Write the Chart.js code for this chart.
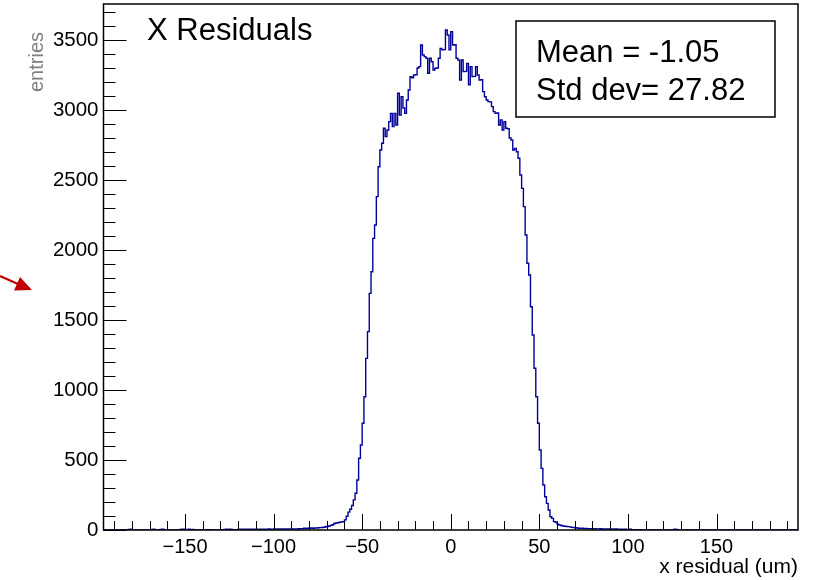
<!DOCTYPE html>
<html>
<head>
<meta charset="utf-8">
<script src="https://cdn.jsdelivr.net/npm/chart.js@4.4.1/dist/chart.umd.min.js"></script>
<style>
  html, body { margin: 0; padding: 0; background: #ffffff; }
  #wrap { width: 813px; height: 580px; position: relative; }
</style>
</head>
<body>
<div id="wrap"><canvas id="c" width="813" height="580"></canvas></div>
<script>
// ---- data ----
const xMin = -196;            // left edge of the first bin (um)
const xMax = 196;             // right edge of the last bin (um)
const yMax = 3757;            // top of the frame (entries)

// bin contents, 1 um bins, left tail: x = -196 ... -71
const leftTail = [
  0,0,0,1,0,0,0,0,1,0,
  0,0,0,0,4,5,0,0,1,0,
  0,0,0,1,0,0,0,4,5,0,
  0,1,4,5,0,0,0,1,0,0,
  1,0,0,4,5,5,0,4,5,0,
  4,0,0,1,0,0,1,0,0,2,
  0,0,1,0,0,0,2,0,4,5,
  4,5,4,1,2,0,5,4,5,5,
  4,6,5,4,5,6,5,4,6,5,
  5,6,6,7,5,6,7,6,7,8,
  6,7,7,8,7,6,8,7,8,7,
  9,8,10,12,11,13,12,14,13,15,
  14,16,17,18,20,23
];
// core: x = -70 ... 74
const core = [
  25,29,33,38,46,50,52,55,57,60,
  72,98,128,148,175,215,262,357,512,607,
  762,952,1226,1417,1690,1845,2083,2179,2381,2595,
  2714,2762,2869,2810,2857,2917,2976,2881,2976,2893,
  3119,2964,3095,3014,2976,3071,3143,3238,3230,3250,
  3252,3300,3310,3464,3393,3381,3369,3262,3369,3345,
  3286,3298,3300,3369,3440,3429,3431,3571,3536,3429,
  3560,3464,3466,3369,3357,3214,3357,3274,3276,3333,
  3179,3310,3238,3240,3310,3250,3214,3216,3131,3095,
  3071,3060,3058,3024,2988,2976,2978,2893,2929,2857,
  2917,2869,2866,2800,2786,2714,2726,2702,2655,2536,
  2440,2310,2107,1905,1821,1595,1393,1155,952,762,
  571,440,321,238,190,143,95,83,60,55,
  42,36,32,29,27,25,24,22,19,18,
  16,14,13,12,12
];
// right tail: x = 75 ... 195
const rightTail = [
  10,11,9,10,9,8,9,8,8,9,
  7,8,7,8,7,6,7,6,7,6,
  5,5,4,5,4,3,6,3,2,3,
  2,1,2,0,1,0,1,0,0,2,
  0,0,0,1,0,0,0,0,0,0,
  0,5,4,0,0,0,1,0,0,0,
  0,0,0,0,1,0,0,0,0,0,
  0,0,0,0,0,0,0,0,0,1,
  0,0,0,0,0,0,0,0,0,0,
  0,0,0,0,1,0,0,0,0,0,
  0,0,0,0,0,0,0,0,0,0,
  0,0,0,0,0,0,1,0,0,0,
  0
];
const counts = [...leftTail, ...core, ...rightTail];

const xTickLabels = [-150, -100, -50, 0, 50, 100, 150];
const yTickLabels = [0, 500, 1000, 1500, 2000, 2500, 3000, 3500];
const titleText = 'X Residuals';
const xTitle = 'x residual (um)';
const yTitle = 'entries';
const statsLines = ['Mean = -1.05', 'Std dev= 27.82'];

// ---- build histogram outline points (left bin edges) ----
const points = counts.map((c, i) => ({ x: xMin + i, y: c }));
points.push({ x: xMax, y: counts[counts.length - 1] });

const FONT = "'Liberation Sans', Arial, Helvetica, sans-serif";
Chart.defaults.font.family = FONT;

const fmtX = v => (v < 0 ? '\u2212' + Math.abs(v) : String(v));

const rootDecor = {
  id: 'rootDecor',
  afterDatasetsDraw(chart) {
    const { ctx, chartArea: a, scales: { x, y } } = chart;
    ctx.save();
    // inside ticks
    ctx.strokeStyle = '#000';
    ctx.lineWidth = 1;
    ctx.beginPath();
    x.ticks.forEach(t => {
      const px = Math.round(x.getPixelForValue(t.value)) + 0.5;
      const len = xTickLabels.includes(t.value) ? 16 : 9;
      ctx.moveTo(px, a.bottom);
      ctx.lineTo(px, a.bottom - len);
    });
    y.ticks.forEach(t => {
      const py = Math.round(y.getPixelForValue(t.value)) + 0.5;
      const len = yTickLabels.includes(t.value) ? 23 : 12;
      ctx.moveTo(a.left, py);
      ctx.lineTo(a.left + len, py);
    });
    ctx.stroke();
    // frame
    ctx.lineWidth = 1.5;
    ctx.strokeRect(a.left, a.top, a.right - a.left, a.bottom - a.top);

    // title
    ctx.fillStyle = '#000';
    ctx.font = '31px ' + FONT;
    ctx.textAlign = 'left';
    ctx.textBaseline = 'alphabetic';
    ctx.fillText(titleText, 147, 40);

    // stats box
    ctx.fillStyle = '#fff';
    ctx.fillRect(516, 21, 259, 96);
    ctx.strokeStyle = '#000';
    ctx.lineWidth = 1.5;
    ctx.strokeRect(516, 21, 259, 96);
    ctx.fillStyle = '#000';
    ctx.font = '31px ' + FONT;
    ctx.fillText(statsLines[0], 536, 62);
    ctx.fillText(statsLines[1], 536, 100);

    // y title (rotated, gray)
    ctx.save();
    ctx.translate(43, 32);
    ctx.rotate(-Math.PI / 2);
    ctx.fillStyle = '#808080';
    ctx.font = '20px ' + FONT;
    ctx.textAlign = 'right';
    ctx.textBaseline = 'alphabetic';
    ctx.fillText(yTitle, 0, 0);
    ctx.restore();

    ctx.restore();
  },
  afterDraw(chart) {
    const { ctx } = chart;
    ctx.save();
    ctx.strokeStyle = '#c00000';
    ctx.fillStyle = '#c00000';
    ctx.lineWidth = 2.2;
    ctx.beginPath();
    ctx.moveTo(0, 276);
    ctx.lineTo(18, 284);
    ctx.stroke();
    ctx.beginPath();
    ctx.moveTo(32, 290);
    ctx.lineTo(14, 290.5);
    ctx.lineTo(20, 277);
    ctx.closePath();
    ctx.fill();
    ctx.restore();
  }
};

new Chart(document.getElementById('c'), {
  type: 'line',
  data: {
    datasets: [{
      data: points,
      stepped: 'before',
      borderColor: '#000099',
      borderWidth: 1.4,
      pointRadius: 0,
      fill: false,
      tension: 0
    }]
  },
  options: {
    responsive: false,
    animation: false,
    events: [],
    layout: { padding: { left: 0, right: 15, top: 4, bottom: 0 } },
    plugins: { legend: { display: false }, tooltip: { enabled: false }, title: { display: false } },
    scales: {
      x: {
        type: 'linear',
        min: xMin,
        max: xMax,
        grid: { display: false, drawTicks: false },
        border: { display: false },
        ticks: {
          stepSize: 10,
          maxTicksLimit: 100,
          includeBounds: false,
          autoSkip: false,
          maxRotation: 0,
          minRotation: 0,
          padding: 5,
          color: '#000',
          font: { size: 20 },
          callback: v => (xTickLabels.includes(v) ? fmtX(v) : '')
        },
        title: {
          display: true,
          text: xTitle,
          align: 'end',
          color: '#000',
          font: { size: 21 },
          padding: { top: 0, bottom: 0 }
        },
        afterFit: s => { s.height = 50; s.paddingLeft = 0; s.paddingRight = 0; }
      },
      y: {
        type: 'linear',
        min: 0,
        max: yMax,
        grid: { display: false, drawTicks: false },
        border: { display: false },
        ticks: {
          stepSize: 100,
          maxTicksLimit: 100,
          includeBounds: false,
          autoSkip: false,
          padding: 5,
          color: '#000',
          font: { size: 20.5 },
          callback: v => (yTickLabels.includes(v) ? String(v) : '')
        },
        afterFit: s => { s.width = 103.5; s.paddingTop = 0; s.paddingBottom = 0; }
      }
    }
  },
  plugins: [rootDecor]
});
</script>
</body>
</html>
